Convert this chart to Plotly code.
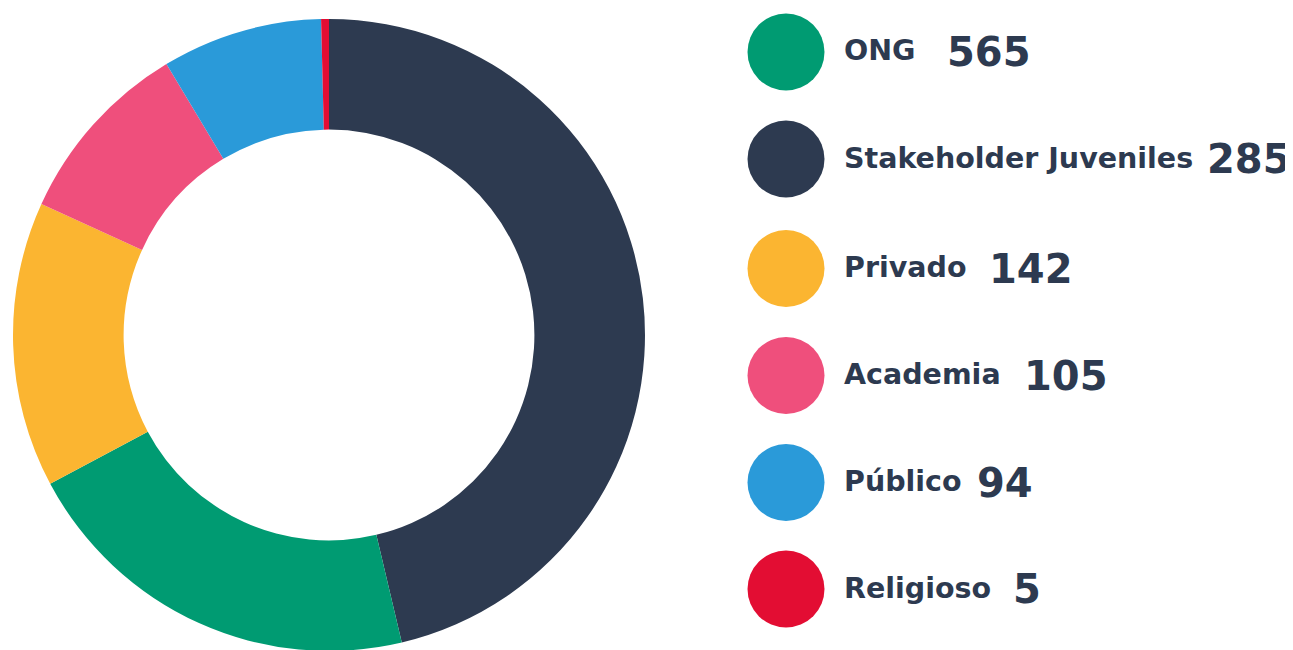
import plotly.graph_objects as go

# ---- data ----
categories = ["ONG", "Stakeholder Juveniles", "Privado", "Academia", "Público", "Religioso"]
counts = [565, 285, 142, 105, 94, 5]
legend_colors = ["#009b72", "#2d3a50", "#fbb531", "#ef4f7c", "#2a9ad9", "#e30d33"]
# slice shares (%) as drawn in the reference ring, and the colours the slices carry there
slice_shares = [46.3, 20.9, 14.6, 9.6, 8.2, 0.4]
slice_colors = ["#2d3a50", "#009b72", "#fbb531", "#ef4f7c", "#2a9ad9", "#e30d33"]

W, H = 1293, 650
OFF = 8  # page body margin
TEXT = "#2d3a50"
FONT = "DejaVu Sans"

fig = go.Figure()
cx, cy0, R = 329 - OFF, 335 - OFF, 316
fig.add_trace(go.Pie(
    labels=categories,
    values=slice_shares,
    customdata=counts,
    marker=dict(colors=slice_colors, line=dict(width=0)),
    hole=0.65,
    sort=False,
    direction="clockwise",
    rotation=0,
    textinfo="none",
    hovertemplate="%{label}: %{customdata}<extra></extra>",
    showlegend=False,
    domain=dict(x=[(cx - R) / W, (cx + R) / W], y=[1 - (cy0 + R) / H, 1 - (cy0 - R) / H]),
))

# custom legend layout (reference pixel coordinates)
circle_cx, circle_r = 786, 38.5
row_y = [52, 159, 268.5, 375.5, 482.5, 589]
label_x = 845
num_x = [948, 1208, 990, 1025, 978, 1014]
PAD = 3

shapes = []
annotations = []
for i, cat in enumerate(categories):
    cy = row_y[i] - OFF
    shapes.append(dict(
        type="circle", xref="paper", yref="paper",
        x0=(circle_cx - OFF - circle_r) / W, x1=(circle_cx - OFF + circle_r) / W,
        y0=1 - (cy + circle_r) / H, y1=1 - (cy - circle_r) / H,
        fillcolor=legend_colors[i], line=dict(width=0),
    ))
    annotations.append(dict(
        xref="paper", yref="paper", x=(label_x - OFF - PAD) / W, y=1 - (cy - 1) / H,
        xanchor="left", yanchor="middle", showarrow=False,
        text="<b>" + cat + "</b>",
        font=dict(family=FONT, size=28.5, color=TEXT),
    ))
    annotations.append(dict(
        xref="paper", yref="paper", x=(num_x[i] - OFF - PAD) / W, y=1 - cy / H,
        xanchor="left", yanchor="middle", showarrow=False,
        text="<b>" + str(counts[i]) + "</b>",
        font=dict(family=FONT, size=40, color=TEXT),
    ))

fig.update_layout(
    width=W, height=H,
    margin=dict(l=0, r=0, t=0, b=0),
    paper_bgcolor="white", plot_bgcolor="white",
    shapes=shapes, annotations=annotations,
)

fig.write_html("out.html")
